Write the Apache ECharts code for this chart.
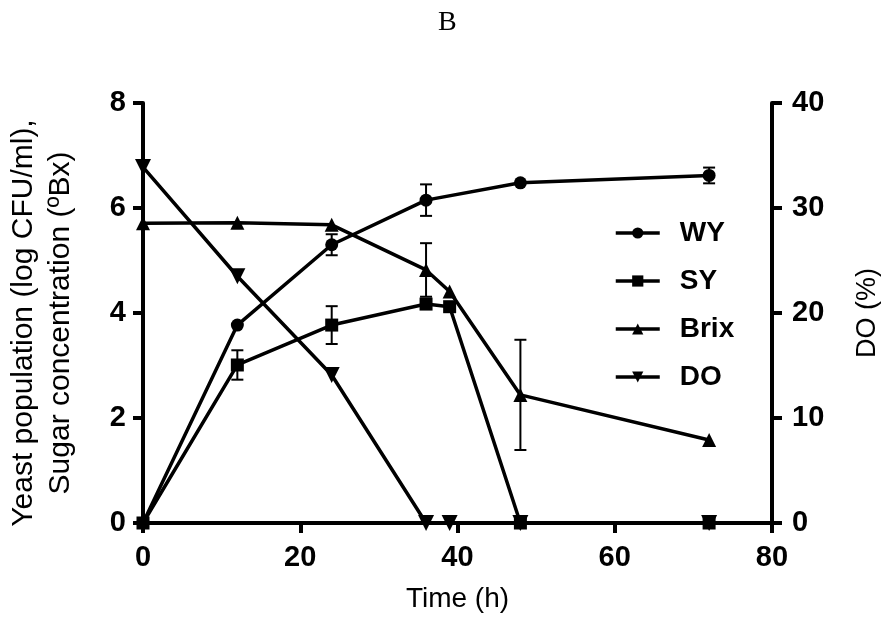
<!DOCTYPE html>
<html>
<head>
<meta charset="utf-8">
<script src="https://cdn.jsdelivr.net/npm/echarts@6/dist/echarts.min.js"></script>
<style>
  html, body { margin: 0; padding: 0; background: #fff; }
  #main { width: 884px; height: 620px; }
</style>
</head>
<body>
<div id="main"></div>
<script>
// sampling times (h)
const hours = [0, 12, 24, 36, 39, 48, 72]
// left axis: log CFU/ml and ºBx ; right axis: DO %
const wy = [0, 3.77, 5.30, 6.15, null, 6.48, 6.62]
const wyErr = [0, 0, 0.2, 0.3, null, 0, 0.15]
const sy = [0, 3.01, 3.77, 4.17, 4.12, 0, 0]
const syErr = [0, 0.28, 0.36, 0, 0, 0, 0]
const brix = [5.71, 5.72, 5.68, 4.82, 4.41, 2.44, 1.58]
const brixErr = [0, 0, 0, 0.51, 0, 1.05, 0]
const doPct = [33.9, 23.5, 14.1, 0, 0, 0, 0]
const xTicks = [0, 20, 40, 60, 80]

const font = 'Liberation Sans, Arial, Helvetica, sans-serif'

function pairs (vals) {
  const out = []
  vals.forEach((v, i) => { if (v !== null) out.push([hours[i], v]) })
  return out
}

function errData (vals, errs) {
  const out = []
  vals.forEach((v, i) => {
    if (v !== null && errs[i]) out.push([hours[i], v - errs[i], v + errs[i]])
  })
  return out
}

function renderErr (params, api) {
  const x = api.value(0)
  const lo = api.coord([x, api.value(1)])
  const hi = api.coord([x, api.value(2)])
  const w = 6
  const st = { stroke: '#000', lineWidth: 2 }
  return {
    type: 'group',
    children: [
      { type: 'line', shape: { x1: lo[0], y1: lo[1], x2: hi[0], y2: hi[1] }, style: st },
      { type: 'line', shape: { x1: lo[0] - w, y1: lo[1], x2: lo[0] + w, y2: lo[1] }, style: st },
      { type: 'line', shape: { x1: hi[0] - w, y1: hi[1], x2: hi[0] + w, y2: hi[1] }, style: st }
    ]
  }
}

function lineSeries (name, data, symbol, size, axis, rotate) {
  return {
    name: name,
    type: 'line',
    yAxisIndex: axis,
    data: data,
    symbol: symbol,
    symbolSize: size,
    symbolRotate: rotate || 0,
    showAllSymbol: true,
    color: '#000',
    itemStyle: { color: '#000' },
    lineStyle: { color: '#000', width: 3.5 },
    z: 3
  }
}

const axisCommon = {
  axisLine: { show: true, lineStyle: { color: '#000', width: 4 } },
  axisTick: { show: true, inside: false, length: 10, lineStyle: { color: '#000', width: 4 } },
  splitLine: { show: false },
  axisLabel: { color: '#000', fontFamily: font, fontWeight: 'bold', fontSize: 29 }
}

const myChart = echarts.init(document.getElementById('main'))
const option = {
  animation: false,
  backgroundColor: '#fff',
  title: {
    text: 'B',
    left: 433,
    top: 4,
    textStyle: { fontFamily: 'Liberation Serif, Times New Roman, serif', fontWeight: 'normal', fontSize: 28, color: '#000' }
  },
  legend: {
    orient: 'vertical',
    left: 609,
    top: 214,
    itemWidth: 44,
    itemHeight: 14,
    itemGap: 20,
    data: ['WY', 'SY', 'Brix', 'DO'],
    lineStyle: { width: 3.5, color: '#000' },
    textStyle: { color: '#000', fontFamily: font, fontWeight: 'bold', fontSize: 28, padding: [0, 0, 0, 15] }
  },
  grid: { left: 143, right: 112, top: 103, bottom: 97, containLabel: false, outerBoundsMode: 'none' },
  xAxis: Object.assign({}, axisCommon, {
    type: 'value',
    min: xTicks[0],
    max: xTicks[xTicks.length - 1],
    interval: 20,
    name: 'Time (h)',
    nameLocation: 'middle',
    nameGap: 62,
    nameTextStyle: { color: '#000', fontFamily: font, fontSize: 28 },
    axisLabel: Object.assign({}, axisCommon.axisLabel, { margin: 20 })
  }),
  yAxis: [
    Object.assign({}, axisCommon, {
      type: 'value',
      min: 0,
      max: 8,
      interval: 2,
      name: 'Yeast population (log CFU/ml),\nSugar concentration (ºBx)',
      nameLocation: 'middle',
      nameRotate: 90,
      nameGap: 64,
      nameTextStyle: { color: '#000', fontFamily: font, fontSize: 30, lineHeight: 37, padding: [0, 20, 0, 0] },
      axisLabel: Object.assign({}, axisCommon.axisLabel, { margin: 17 })
    }),
    Object.assign({}, axisCommon, {
      type: 'value',
      position: 'right',
      min: 0,
      max: 40,
      interval: 10,
      name: 'DO (%)',
      nameLocation: 'middle',
      nameRotate: 90,
      nameGap: 82,
      nameTextStyle: { color: '#000', fontFamily: font, fontSize: 27 },
      axisLabel: Object.assign({}, axisCommon.axisLabel, { margin: 20 })
    })
  ],
  series: [
    lineSeries('WY', pairs(wy), 'circle', 13, 0),
    lineSeries('SY', pairs(sy), 'rect', 13, 0),
    lineSeries('Brix', pairs(brix), 'triangle', 14, 0),
    lineSeries('DO', pairs(doPct), 'triangle', 16, 1, 180),
    { type: 'custom', yAxisIndex: 0, renderItem: renderErr, data: errData(wy, wyErr), z: 2 },
    { type: 'custom', yAxisIndex: 0, renderItem: renderErr, data: errData(sy, syErr), z: 2 },
    { type: 'custom', yAxisIndex: 0, renderItem: renderErr, data: errData(brix, brixErr), z: 2 }
  ]
}
myChart.setOption(option)
</script>
</body>
</html>
